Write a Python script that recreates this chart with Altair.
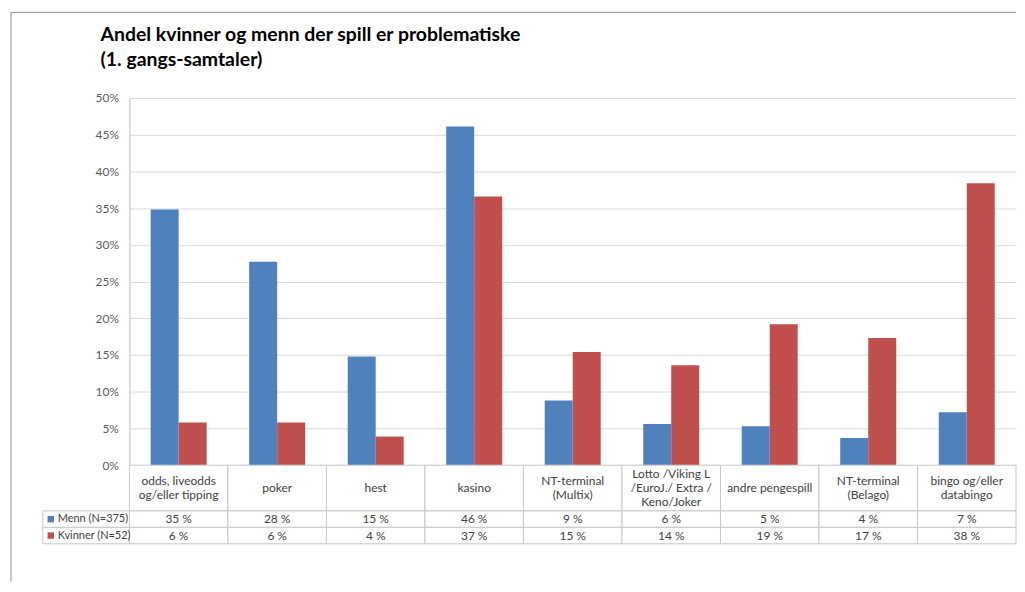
import altair as alt
import pandas as pd

categories = [
    "odds, liveodds\nog/eller tipping",
    "poker",
    "hest",
    "kasino",
    "NT-terminal\n(Multix)",
    "Lotto /Viking L\n/EuroJ./ Extra /\nKeno/Joker",
    "andre pengespill",
    "NT-terminal\n(Belago)",
    "bingo og/eller\ndatabingo",
]
series = ["Menn (N=375)", "Kvinner (N=52)"]
menn = [34.8, 27.7, 14.8, 46.1, 8.8, 5.6, 5.3, 3.7, 7.2]
kvinner = [5.8, 5.8, 3.9, 36.6, 15.4, 13.6, 19.2, 17.3, 38.4]
colors = ["#4F81BD", "#C0504D"]
y_ticks = [0, 5, 10, 15, 20, 25, 30, 35, 40, 45, 50]
title_lines = ["Andel kvinner og menn der spill er problematiske", "(1. gangs-samtaler)"]

FONT = "Lato"
LINE = "#c8c8c8"
TXT = "#404040"

rows = []
for s, vals in zip(series, [menn, kvinner]):
    for c, v in zip(categories, vals):
        rows.append({"cat": c, "series": s, "value": v})
df = pd.DataFrame(rows)
cat_df = pd.DataFrame({"cat": categories})
ser_df = pd.DataFrame({"series": series})

W = 891
PH = 369
xscale = alt.Scale(domain=categories, paddingInner=0, paddingOuter=0)
X = alt.X("cat:N", sort=categories, scale=xscale, axis=None)
cscale = alt.Scale(domain=series, range=colors)

bar_marks = alt.Chart(df).mark_bar().encode(
    x=X,
    xOffset=alt.XOffset("series:N", sort=series,
                        scale=alt.Scale(domain=series, paddingInner=0, paddingOuter=0.76)),
    y=alt.Y("value:Q", scale=alt.Scale(domain=[0, 50], nice=False),
            axis=alt.Axis(values=y_ticks, labelExpr="datum.value + '%'", title=None,
                          grid=True, gridColor="#d9d9d9", domainColor="#bfbfbf",
                          ticks=False, labelPadding=11, labelFontSize=12,
                          labelColor="#595959", labelFont=FONT)),
    color=alt.Color("series:N", sort=series, scale=cscale, legend=None),
)
# outer chart-area frame (top and left edges visible in the reference)
frame_top = alt.Chart(ser_df.head(1)).mark_rule(color="#8c8c8c", strokeWidth=1).encode(
    x=alt.value(-119), x2=alt.value(W), y=alt.value(-86))
frame_left = alt.Chart(ser_df.head(1)).mark_rule(color="#8c8c8c", strokeWidth=1).encode(
    x=alt.value(-119), y=alt.value(-86), y2=alt.value(486))
bars = alt.layer(frame_top, frame_left, bar_marks).properties(width=W, height=PH)

HH = 46
LH = 14
header_cells = alt.Chart(cat_df).mark_rect(fill="white", stroke=LINE).encode(
    x=X, y=alt.value(0), y2=alt.value(HH))
header_text = alt.Chart(cat_df).transform_calculate(
    n="length(split(datum.cat, '\\n'))",
    ty=f"{HH / 2} - (datum.n - 1) * {LH / 2}",
).mark_text(
    lineBreak="\n", fontSize=12, font=FONT, color=TXT, lineHeight=LH, baseline="middle").encode(
    x=X, y=alt.Y("ty:Q", scale=None, axis=None), text="cat:N")
header = alt.layer(header_cells, header_text).properties(width=W, height=HH)

Y = alt.Y("series:N", sort=series,
          scale=alt.Scale(domain=series, paddingInner=0, paddingOuter=0), axis=None)
val_base = alt.Chart(df).transform_calculate(
    label="format(datum.value, '.0f') + ' %'")
val_cells = val_base.mark_rect(fill="white", stroke=LINE).encode(x=X, y=Y)
val_text = val_base.mark_text(fontSize=12, font=FONT, color=TXT).encode(
    x=X, y=Y, text="label:N")
left_cells = alt.Chart(ser_df).mark_rect(fill="white", stroke=LINE).encode(
    x=alt.value(-87), x2=alt.value(0), y=Y)
squares = alt.Chart(ser_df).mark_point(shape="square", filled=True, size=42, opacity=1).encode(
    x=alt.value(-79), y=Y,
    color=alt.Color("series:N", sort=series, scale=cscale, legend=None))
left_text = alt.Chart(ser_df).mark_text(align="left", fontSize=11, font=FONT, color=TXT).encode(
    x=alt.value(-72), y=Y, text="series:N")
values = alt.layer(val_cells, val_text, left_cells, squares, left_text).properties(
    width=W, height=33)

chart = alt.vconcat(bars, header, values, spacing=0, bounds="flush").properties(
    title=alt.TitleParams(text=title_lines, anchor="start", frame="group",
                          fontSize=19.5, font=FONT, fontWeight="bold", color="#000000",
                          lineHeight=25, offset=-59, dx=-29),
    padding={"left": 2, "top": 2, "right": 0, "bottom": 0},
).configure_view(stroke=None)

chart.save("out.html", embed_options={"renderer": "svg", "actions": False})
